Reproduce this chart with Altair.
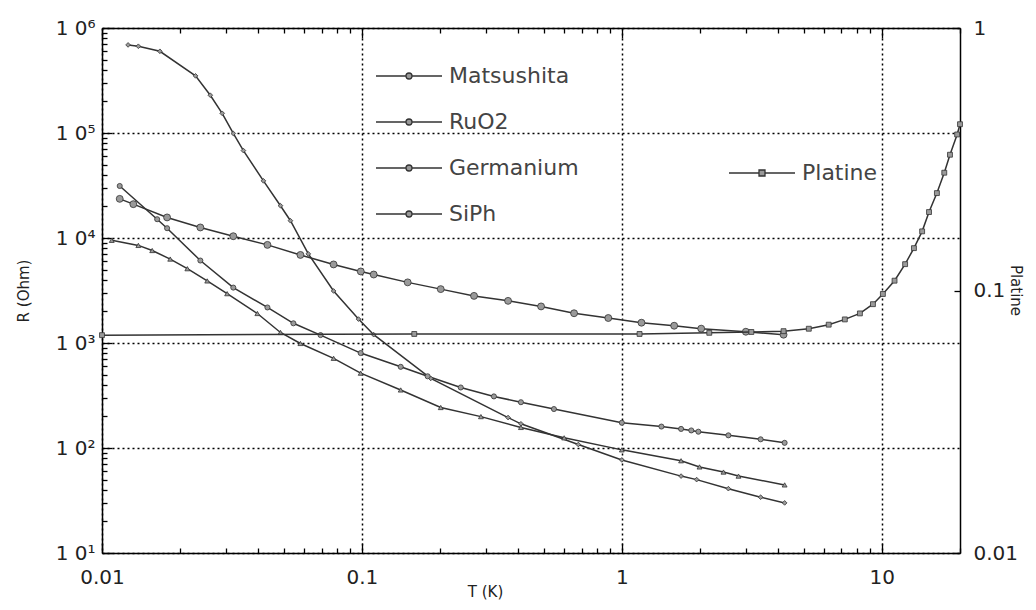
import altair as alt
import pandas as pd

# ---------------- data ----------------
series_names = ["Matsushita", "RuO2", "Germanium", "SiPh"]
marker_shapes = ["diamond", "circle", "circle", "triangle-up"]
marker_sizes = [22, 48, 26, 24]

mats_T = [0.0126, 0.0138, 0.0167, 0.0229, 0.0261, 0.029, 0.032, 0.035, 0.0418, 0.0486,
          0.0531, 0.0622, 0.0778, 0.097, 0.111, 0.184, 0.365, 0.409, 0.68, 1.0,
          1.69, 1.94, 2.57, 3.42, 4.23]
mats_R = [6.9e5, 6.7e5, 6.0e5, 3.5e5, 2.29e5, 1.54e5, 9.9e4, 6.8e4, 3.5e4, 2.03e4,
          1.46e4, 7.06e3, 3.13e3, 1.69e3, 1.2e3, 460, 195, 170, 108, 77,
          54, 50, 41, 34, 30]

ruo2_T = [0.0117, 0.0132, 0.0178, 0.0239, 0.032, 0.0433, 0.058, 0.0778, 0.099, 0.111,
          0.150, 0.201, 0.270, 0.365, 0.489, 0.655, 0.887, 1.19, 1.59, 2.02, 3.0, 4.19]
ruo2_R = [2.36e4, 2.1e4, 1.57e4, 1.26e4, 1.04e4, 8.6e3, 6.9e3, 5.6e3, 4.8e3, 4.49e3,
          3.78e3, 3.26e3, 2.81e3, 2.52e3, 2.23e3, 1.92e3, 1.73e3, 1.56e3, 1.46e3, 1.37e3,
          1.28e3, 1.2e3]

ge_T = [0.0117, 0.0163, 0.0178, 0.0239, 0.032, 0.0433, 0.0545, 0.0693, 0.0989, 0.141,
        0.179, 0.240, 0.322, 0.409, 0.548, 1.0, 1.42, 1.69, 1.85, 1.97, 2.57, 3.42, 4.23]
ge_R = [3.13e4, 1.51e4, 1.24e4, 6.1e3, 3.37e3, 2.18e3, 1.54e3, 1.19e3, 802, 593,
        482, 377, 310, 273, 235, 174, 160, 152, 147, 143, 132, 121, 112]

siph_T = [0.0109, 0.0138, 0.0156, 0.0183, 0.0213, 0.0254, 0.0303, 0.0396, 0.0486, 0.058,
          0.0778, 0.0989, 0.141, 0.201, 0.287, 0.409, 0.6, 1.0, 1.69, 1.99, 2.46, 2.81, 4.23]
siph_R = [9.5e3, 8.5e3, 7.6e3, 6.3e3, 5.1e3, 3.9e3, 2.95e3, 1.91e3, 1.26e3, 990,
          715, 516, 357, 243, 199, 157, 125, 96, 75.6, 66, 59, 54, 44.5]

plat_T = [0.01, 0.159, 1.17, 2.17, 3.15, 4.19, 5.24, 6.25, 7.21, 8.24, 9.25, 10.1,
          11.2, 12.3, 13.3, 14.3, 15.2, 16.3, 17.4, 18.3, 19.5, 20.0]
plat_P = [0.0676, 0.0683, 0.0683, 0.069, 0.0695, 0.070, 0.0715, 0.0741, 0.0776, 0.0818,
          0.0887, 0.097, 0.109, 0.126, 0.145, 0.168, 0.199, 0.235, 0.281, 0.329, 0.393, 0.43]

x_domain = [0.01, 20]
y_domain = [10, 1e6]
p_domain = [0.01, 1]
x_ticks = [m * 10.0 ** e for e in (-2, -1, 0, 1) for m in range(1, 10) if m * 10.0 ** e <= 20]
y_ticks = [m * 10.0 ** e for e in (1, 2, 3, 4, 5) for m in range(1, 10)] + [1e6]
p_ticks = [0.01, 0.1, 1]

rows = []
for name, Ts, Rs in zip(series_names, [mats_T, ruo2_T, ge_T, siph_T],
                        [mats_R, ruo2_R, ge_R, siph_R]):
    for t, r in zip(Ts, Rs):
        rows.append({"series": name, "T": t, "R": r})
df_left = pd.DataFrame(rows)
df_plat = pd.DataFrame({"series": ["Platine"] * len(plat_T), "T": plat_T, "P": plat_P})

FONT = "DejaVu Sans"
INK = "#333333"
DEC = "abs(log(datum.value)/LN10 - round(log(datum.value)/LN10)) < 1e-6"
SUP = "['\u2070','\u00b9','\u00b2','\u00b3','\u2074','\u2075','\u2076'][round(log(datum.value)/LN10)]"

tick_in = {"condition": {"test": DEC, "value": -10}, "value": -5}
grid_op = {"condition": {"test": DEC, "value": 1}, "value": 0}

# legend glyph: a short line with a small marker in its middle (unit = 10 px)
LINE_DOT = "M-1,0L2,0M2.6,0L5.6,0M2.6,0A0.3,0.3,0,1,1,2,0A0.3,0.3,0,1,1,2.6,0Z"
LINE_SQ = "M-1,0L2,0M2.6,0L5.6,0M2,-0.3L2.6,-0.3L2.6,0.3L2,0.3Z"

xscale = alt.Scale(type="log", domain=x_domain, nice=False)

x_bottom = alt.Axis(
    values=x_ticks, labelExpr=f"{DEC} ? '' + datum.value : ''", labelFlush=False,
    grid=True, gridDash=[2, 3], gridColor="black", gridWidth=1.5, gridOpacity=grid_op,
    tickSize=tick_in, tickColor="black", tickWidth=1.3,
    domainColor="black", domainWidth=1.5,
    labelFont=FONT, labelFontSize=20, labelColor="#222", labelPadding=24,
    title="T (K)", titleFont=FONT, titleFontSize=15, titleFontWeight="normal",
    titleColor="#222", titleX=383, titleY=43, titleBaseline="alphabetic",
)
x_top = alt.Axis(
    orient="top", values=x_ticks, labels=False, grid=False,
    tickSize=tick_in, tickColor="black", tickWidth=1.3,
    domainColor="black", domainWidth=1.5, title=None,
)
y_left = alt.Axis(
    values=y_ticks, labelExpr=f"{DEC} ? '1 0' + {SUP} : ''", labelFlush=False,
    grid=True, gridDash=[2, 3], gridColor="black", gridWidth=1.5, gridOpacity=grid_op,
    tickSize=tick_in, tickColor="black", tickWidth=1.3,
    domainColor="black", domainWidth=1.5,
    labelFont=FONT, labelFontSize=20, labelColor="#222", labelPadding=17,
    title="R (Ohm)", titleFont=FONT, titleFontSize=15, titleFontWeight="normal",
    titleColor="#222", titlePadding=24,
)
y_right = alt.Axis(
    orient="right", values=p_ticks, labelExpr="'' + datum.value", labelFlush=False,
    grid=False, tickSize={"condition": {"test": "true", "value": -6}, "value": -6},
    tickColor="black", tickWidth=1.3, domainColor="black", domainWidth=1.5,
    labelFont=FONT, labelFontSize=20, labelColor="#222", labelPadding=19,
    title="Platine", titleFont=FONT, titleFontSize=15, titleFontWeight="normal",
    titleColor="#222", titleX=55, titleY=262, titleAngle=90,
    titleAlign="center", titleBaseline="middle",
)

left_lines = alt.Chart(df_left).mark_line(strokeWidth=1.5).encode(
    x=alt.X("T:Q", scale=xscale, axis=x_bottom),
    y=alt.Y("R:Q", scale=alt.Scale(type="log", domain=y_domain, nice=False), axis=y_left),
    color=alt.Color(
        "series:N",
        scale=alt.Scale(domain=series_names, range=[INK] * 4),
        legend=alt.Legend(
            title=None, orient="none", legendX=273, legendY=37,
            symbolType=LINE_DOT, symbolSize=400, symbolStrokeWidth=1.3,
            symbolFillColor="#999999", symbolStrokeColor=INK,
            labelFont=FONT, labelFontSize=22,
            labelColor="#444", labelOffset=52, rowPadding=24,
        ),
    ),
)

point_layers = []
for name, shp, sz in zip(series_names, marker_shapes, marker_sizes):
    point_layers.append(
        alt.Chart(df_left).transform_filter(alt.datum.series == name).mark_point(
            filled=True, shape=shp, size=sz, fill="#9a9a9a", stroke=INK,
            strokeWidth=0.8, opacity=1
        ).encode(x=alt.X("T:Q", scale=xscale), y=alt.Y("R:Q"))
    )

plat_line = alt.Chart(df_plat).mark_line(strokeWidth=1.5).encode(
    x=alt.X("T:Q", scale=xscale, axis=x_top),
    y=alt.Y("P:Q", scale=alt.Scale(type="log", domain=p_domain, nice=False), axis=y_right),
    color=alt.Color(
        "series:N",
        scale=alt.Scale(domain=["Platine"], range=[INK]),
        legend=alt.Legend(
            title=None, orient="none", legendX=626, legendY=134,
            symbolType=LINE_SQ, symbolSize=400, symbolStrokeWidth=1.3,
            symbolFillColor="#999999", symbolStrokeColor=INK,
            labelFont=FONT, labelFontSize=22,
            labelColor="#444", labelOffset=52,
        ),
    ),
)
plat_pts = alt.Chart(df_plat).mark_point(
    filled=True, shape="square", size=24, fill="#9a9a9a", stroke=INK, strokeWidth=0.8, opacity=1
).encode(
    x=alt.X("T:Q", scale=xscale),
    y=alt.Y("P:Q"),
)

left = alt.layer(left_lines, *point_layers)
right = alt.layer(plat_line, plat_pts)

chart = (
    alt.layer(left, right)
    .resolve_scale(y="independent", color="independent")
    .resolve_axis(x="independent", y="independent")
    .resolve_legend(color="independent")
    .properties(
        width=858, height=525,
        autosize=alt.AutoSizeParams(type="none"),
        padding={"left": 94, "top": 20, "right": 68, "bottom": 49},
        background="white",
    )
    .configure_view(stroke="black", strokeWidth=1.5)
    .configure(font=FONT)
)

chart.save("out.html", embed_options={"renderer": "svg", "actions": False})
